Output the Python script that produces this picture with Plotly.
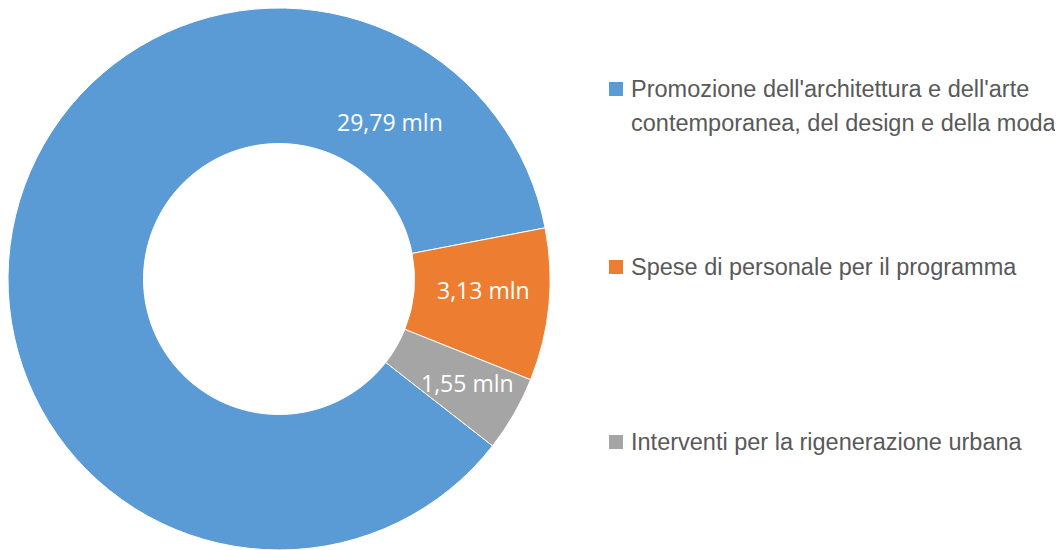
import plotly.graph_objects as go

# Dati
voci = [
    "Promozione dell'architettura e dell'arte<br>contemporanea, del design e della moda",
    "Spese di personale per il programma",
    "Interventi per la rigenerazione urbana",
]
valori = [29.79, 3.13, 1.55]
colori = ["#5B9BD5", "#ED7D31", "#A5A5A5"]

W, H = 1063, 550
OFF = 8  # margine del body della pagina html


def px_x(x):
    return (x - OFF) / W


def px_y(y):
    return 1 - (y - OFF) / H


fig = go.Figure()

fig.add_trace(
    go.Pie(
        labels=voci,
        values=valori,
        sort=False,
        direction="clockwise",
        rotation=128,
        hole=0.5,
        marker=dict(colors=colori, line=dict(color="white", width=1)),
        textinfo="none",
        showlegend=False,
        domain=dict(x=[px_x(8), px_x(550)], y=[px_y(550), px_y(8)]),
    )
)

# Etichette dei valori (posizionate come nell'originale)
pos_etichette = [(390, 122), (483, 290), (467, 383)]
for v, (x, y) in zip(valori, pos_etichette):
    fig.add_annotation(
        x=px_x(x), y=px_y(y), xref="paper", yref="paper",
        text=f"{v:.2f}".replace(".", ",") + " mln",
        showarrow=False, xanchor="center", yanchor="middle",
        font=dict(family="Open Sans, sans-serif", size=23, color="white"),
    )

# Legenda costruita a mano (una riga per annotazione, interlinea 34 px)
pos_legenda = [89, 267, 442]
for voce, col, cy in zip(voci, colori, pos_legenda):
    fig.add_shape(
        type="rect", xref="paper", yref="paper",
        x0=px_x(609), x1=px_x(623), y0=px_y(cy - 7), y1=px_y(cy + 7),
        fillcolor=col, line=dict(width=0),
    )
    for k, riga in enumerate(voce.split("<br>")):
        fig.add_annotation(
            x=px_x(629), y=px_y(cy + 34 * k), xref="paper", yref="paper",
            text=riga, showarrow=False, xanchor="left", yanchor="middle", align="left",
            font=dict(family="Liberation Sans, Arial, sans-serif", size=23.5, color="#595959"),
        )

fig.update_layout(
    width=W, height=H,
    margin=dict(l=0, r=0, t=0, b=0),
    paper_bgcolor="white",
    plot_bgcolor="white",
)

fig.write_html("out.html")
